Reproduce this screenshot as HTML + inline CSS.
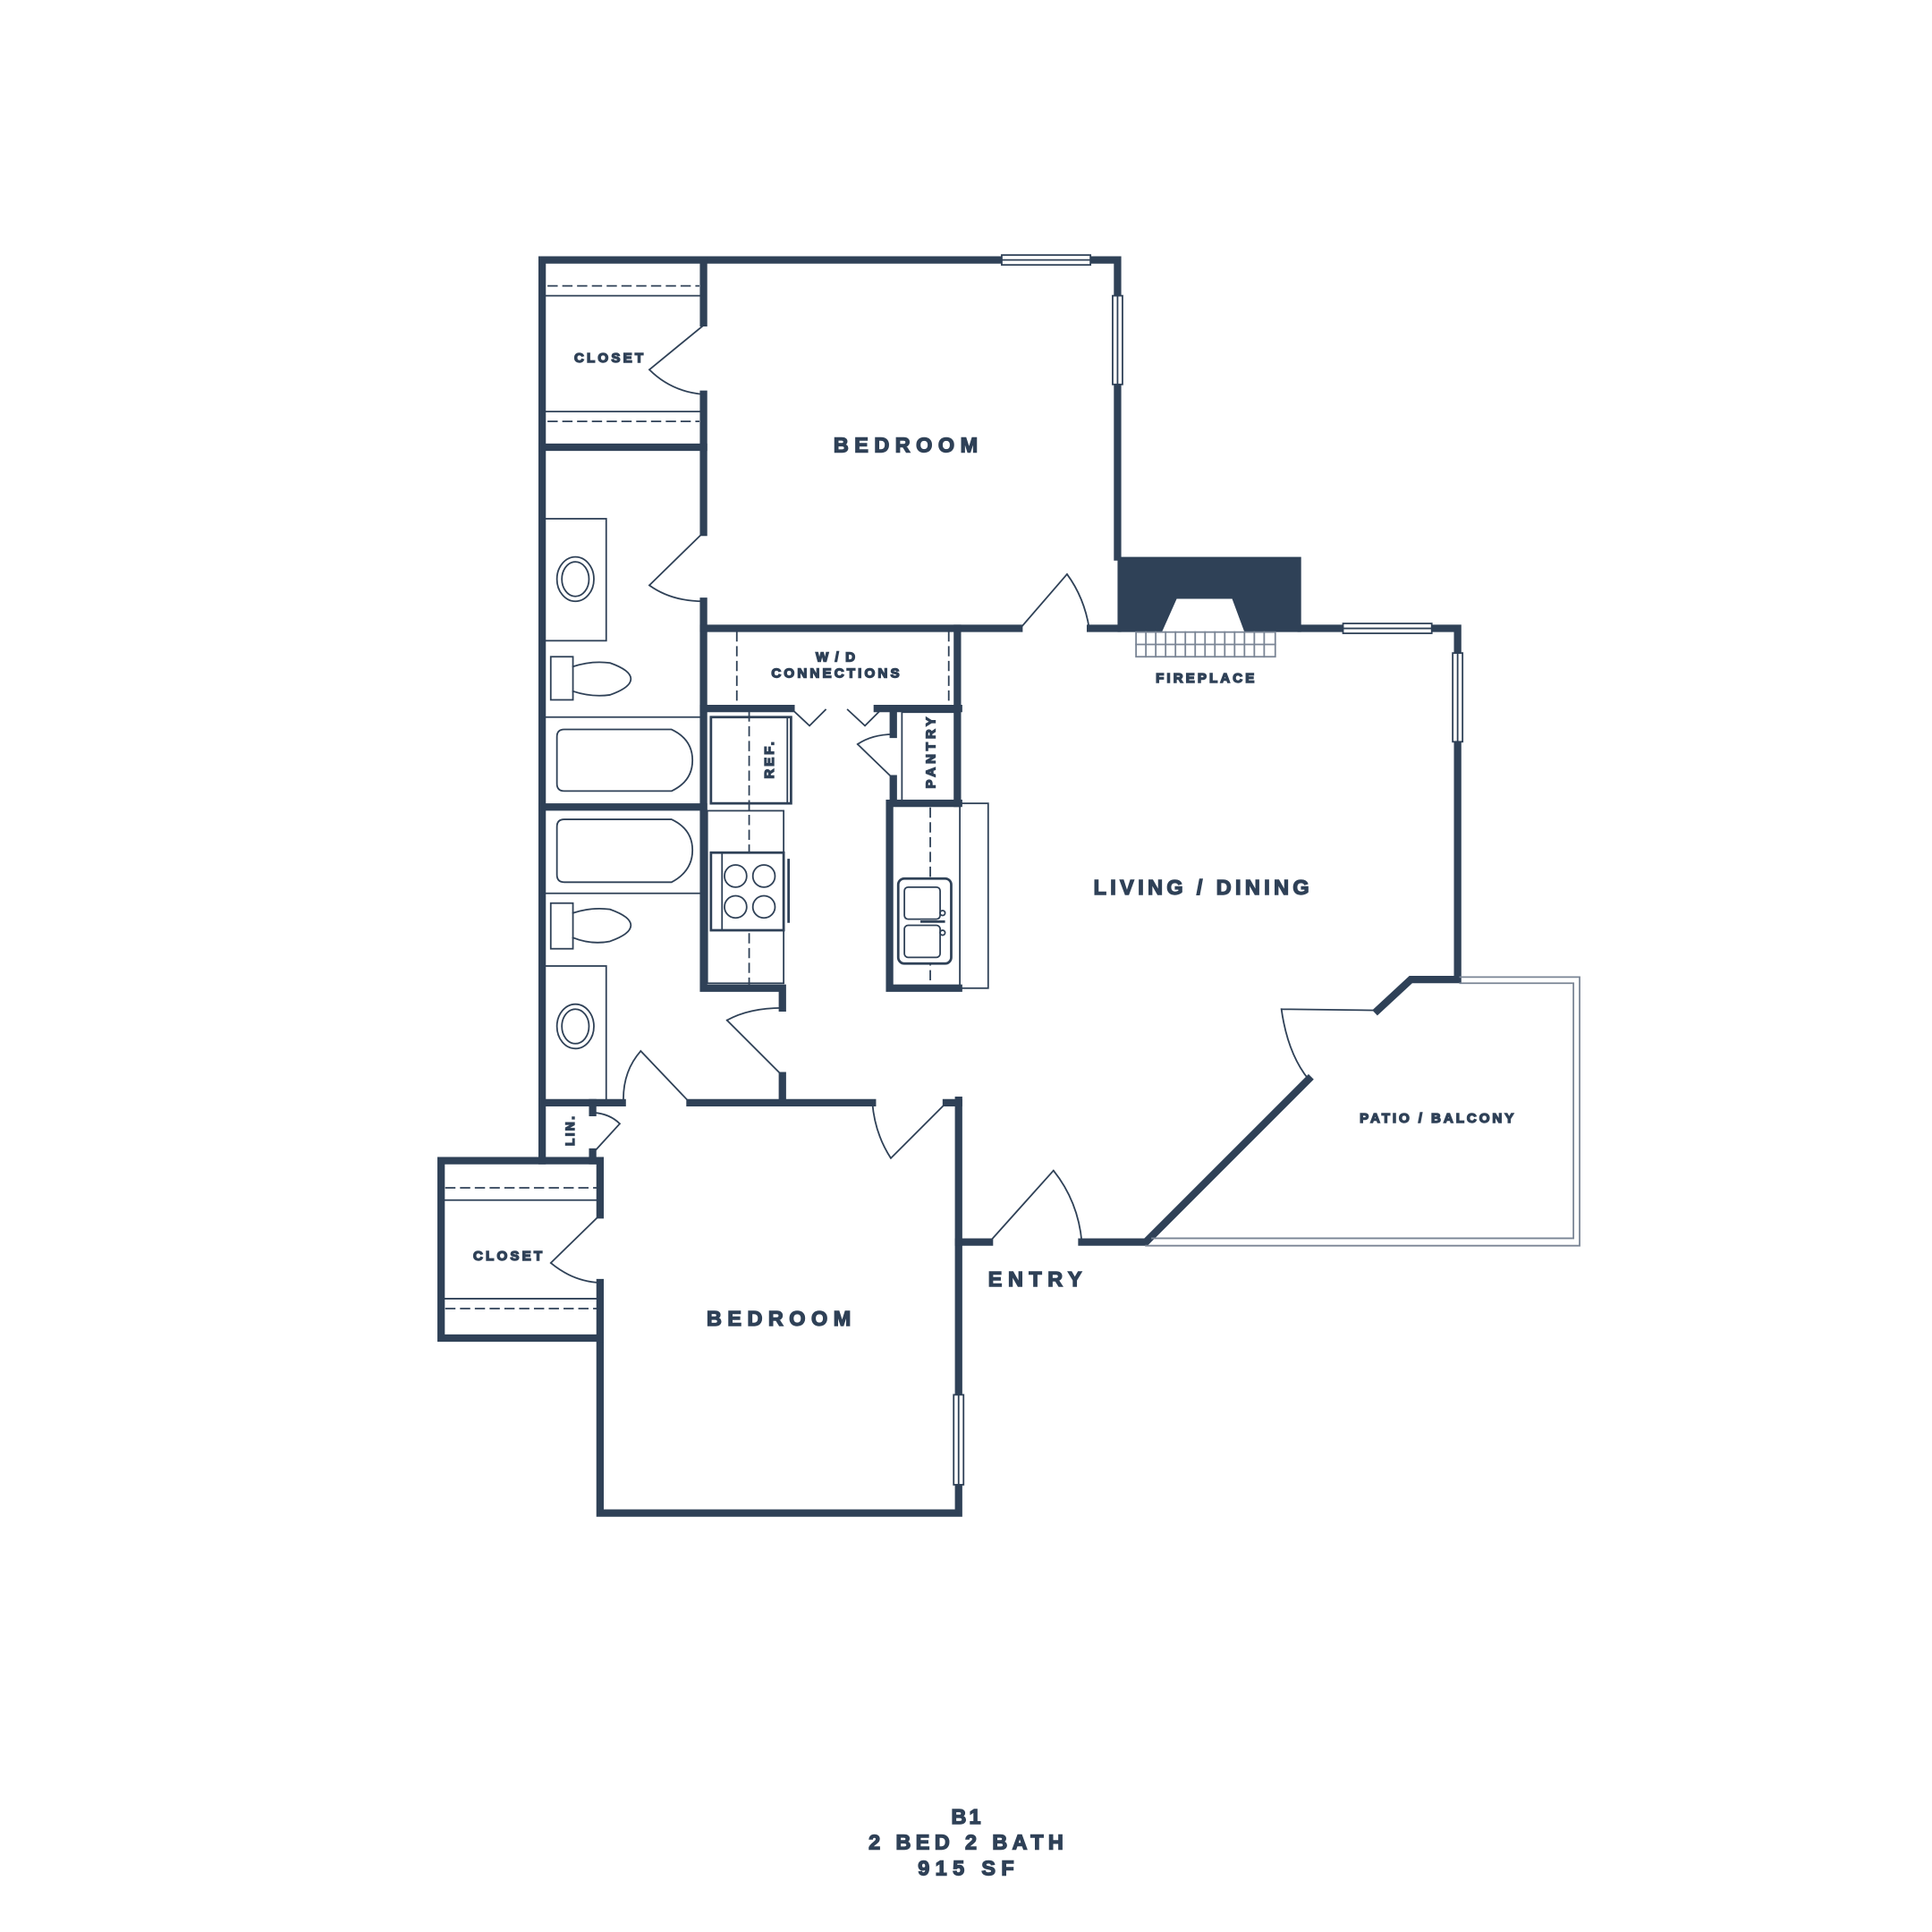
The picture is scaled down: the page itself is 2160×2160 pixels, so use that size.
<!DOCTYPE html>
<html><head><meta charset="utf-8"><style>
html,body{margin:0;padding:0;background:#fff;}
svg{display:block;}
text{font-family:"Liberation Sans",sans-serif;font-weight:bold;fill:#2f4157;}
</style></head><body>
<svg width="2160" height="2160" viewBox="0 0 1568 1568" xmlns="http://www.w3.org/2000/svg">
<g fill="none" stroke="#2f4157" stroke-linecap="square">
<g stroke-width="6">
<path d="M440,211 H907 V452"/>
<path d="M440,211 V942"/>
<path d="M571,211 V262 M571,320 V432 M571,488 V802 H635 V818 M635,873 V893"/>
<path d="M440,363 H571"/>
<path d="M571,510 H827 M885,510 H907"/>
<path d="M1056,510 H1183 V795 H1145 L1118,820"/>
<path d="M1062,876 L930,1008 H878 M803,1008 H778 V1228 H487 V1086"/>
<path d="M778,893 V1008"/>
<path d="M440,895 H505 M560,895 H708 M768,895 H778"/>
<path d="M487,986 V942 H358 V1086 H487 V1041"/>
<path d="M481,895 V903 M481,935 V942"/>
<path d="M777,510 V652"/>
<path d="M571,575 H642 M712,575 H778"/>
<path d="M725,575 V596 M725,632 V652 H778"/>
<path d="M722,652 V802 H778"/>
<path d="M440,655 H571"/>
</g>
<path d="M907,452 H1056 V513 H1010 L1000,486 H955 L943,513 H907 Z" fill="#2f4157" stroke="none"/>
<g stroke-width="1.3" fill="#fff">
<rect x="813" y="207" width="72" height="8"/><line x1="813" y1="211" x2="885" y2="211"/>
<rect x="903" y="240" width="8" height="72"/><line x1="907" y1="240" x2="907" y2="312"/>
<rect x="1090" y="506" width="72" height="8"/><line x1="1090" y1="510" x2="1162" y2="510"/>
<rect x="1179" y="530" width="8" height="72"/><line x1="1183" y1="530" x2="1183" y2="602"/>
<rect x="774" y="1132" width="8" height="73"/><line x1="778" y1="1132" x2="778" y2="1205"/>
</g>
<g stroke-width="1.3">
<line x1="442" y1="240" x2="569" y2="240"/><line x1="442" y1="334" x2="569" y2="334"/>
<line x1="361" y1="974" x2="485" y2="974"/><line x1="361" y1="1054" x2="485" y2="1054"/>
<path d="M571,264 L527,300 M527,300 Q545,318 571,320"/>
<path d="M571,432 L527,475 M527,475 Q545,488 571,488"/>
<path d="M828,510 L866,466 M866,466 Q880,485 884,510"/>
<path d="M487,986 L447,1025 M447,1025 Q465,1040 487,1041"/>
<path d="M482,935 L503,912 M503,912 Q495,904 482,903"/>
<path d="M560,895 L520,853 M520,853 Q505,870 506,895"/>
<path d="M768,895 L723,940 M723,940 Q710,920 708,895"/>
<path d="M635,873 L590,828 M590,828 Q608,818 635,818"/>
<path d="M725,632 L696,604 M696,604 Q708,596 725,596"/>
<path d="M803,1008 L855,950 M855,950 Q875,975 878,1008"/>
<path d="M1118,820 L1040,819 M1040,819 Q1045,855 1062,876"/>
<path d="M642,575 L657,589 L670,576 M688,576 L702,589 L716,575"/>
<path d="M1185,793 H1282 V1011 H930" stroke="#7a8595"/>
<path d="M1185,798 H1277 V1005 H935" stroke="#7a8595"/>
<rect x="922" y="513" width="113" height="20" stroke="#7a8595"/>
<line x1="922" y1="523" x2="1035" y2="523" stroke="#7a8595"/>
<path d="M930,513V533M938,513V533M946,513V533M954,513V533M962,513V533M970,513V533M978,513V533M986,513V533M994,513V533M1002,513V533M1010,513V533M1018,513V533M1026,513V533" stroke="#7a8595"/>
<rect x="442" y="421" width="50" height="99"/>
<ellipse cx="467" cy="470" rx="15" ry="18"/><ellipse cx="467" cy="470" rx="11" ry="14"/>
<rect x="447" y="533" width="18" height="35"/>
<path d="M465,541 Q480,536 495,538 Q512,544 512,551 Q512,558 495,564 Q480,566 465,561"/>
<line x1="442" y1="582" x2="569" y2="582"/>
<path d="M458,592 H545 Q562,600 562,617 Q562,634 545,642 H458 Q452,642 452,636 V598 Q452,592 458,592 Z"/>
<line x1="442" y1="725" x2="569" y2="725"/>
<path d="M458,665 H545 Q562,673 562,690 Q562,707 545,716 H458 Q452,716 452,710 V671 Q452,665 458,665 Z"/>
<rect x="447" y="733" width="18" height="37"/>
<path d="M465,741 Q480,736 495,738 Q512,744 512,751 Q512,758 495,764 Q480,767 465,761"/>
<rect x="442" y="784" width="50" height="111"/>
<ellipse cx="467" cy="833" rx="15" ry="18"/><ellipse cx="467" cy="833" rx="11" ry="14"/>
<g stroke-dasharray="7,5">
<line x1="598" y1="513" x2="598" y2="573"/><line x1="770" y1="513" x2="770" y2="573"/>
<line x1="608" y1="578" x2="608" y2="800"/><line x1="755" y1="656" x2="755" y2="800"/>
<line x1="445" y1="232" x2="567" y2="232"/><line x1="445" y1="342" x2="567" y2="342"/>
<line x1="362" y1="964" x2="485" y2="964"/><line x1="362" y1="1062" x2="485" y2="1062"/>
</g>
<rect x="577" y="582" width="65" height="70" stroke-width="2"/><line x1="639" y1="582" x2="639" y2="652"/>
<rect x="574" y="658" width="62" height="140"/>
<rect x="577" y="692" width="59" height="63" stroke-width="2" fill="#fff"/>
<line x1="586" y1="692" x2="586" y2="755"/>
<circle cx="597" cy="711" r="9"/><circle cx="620" cy="711" r="9"/><circle cx="597" cy="736" r="9"/><circle cx="620" cy="736" r="9"/>
<line x1="640" y1="698" x2="640" y2="748" stroke-width="2"/>
<rect x="732" y="578" width="45" height="74"/>
<rect x="779" y="652" width="23" height="150"/>
<rect x="729" y="713" width="43" height="69" rx="5" stroke-width="2" fill="#fff"/>
<rect x="734" y="720" width="29" height="26" rx="3"/><rect x="734" y="751" width="29" height="26" rx="3"/>
<line x1="748" y1="748" x2="766" y2="748" stroke-width="2"/>
<circle cx="765" cy="741" r="2"/><circle cx="765" cy="757" r="2"/>
</g>
<text x="735" y="367" font-size="17" text-anchor="middle" textLength="117" lengthAdjust="spacing">BEDROOM</text>
<text x="494" y="294" font-size="11" text-anchor="middle" textLength="56" lengthAdjust="spacing">CLOSET</text>
<text x="678" y="537" font-size="11" text-anchor="middle" textLength="32" lengthAdjust="spacing">W/D</text>
<text x="678" y="550" font-size="11" text-anchor="middle" textLength="104" lengthAdjust="spacing">CONNECTIONS</text>
<text x="978" y="554" font-size="11" text-anchor="middle" textLength="80" lengthAdjust="spacing">FIREPLACE</text>
<text x="975" y="726" font-size="17" text-anchor="middle" textLength="175" lengthAdjust="spacing">LIVING / DINING</text>
<text x="1166" y="911" font-size="11" text-anchor="middle" textLength="125" lengthAdjust="spacing">PATIO / BALCONY</text>
<text x="840" y="1044" font-size="17" text-anchor="middle" textLength="76" lengthAdjust="spacing">ENTRY</text>
<text x="632" y="1076" font-size="17" text-anchor="middle" textLength="117" lengthAdjust="spacing">BEDROOM</text>
<text x="412" y="1023" font-size="11" text-anchor="middle" textLength="56" lengthAdjust="spacing">CLOSET</text>
<text transform="translate(628,617) rotate(-90)" font-size="11" text-anchor="middle" textLength="30" lengthAdjust="spacing">REF.</text>
<text transform="translate(759,611) rotate(-90)" font-size="11" text-anchor="middle" textLength="58" lengthAdjust="spacing">PANTRY</text>
<text transform="translate(466,918) rotate(-90)" font-size="10" text-anchor="middle" textLength="24" lengthAdjust="spacing">LIN.</text>
<text x="784" y="1480" font-size="17" text-anchor="middle" textLength="24" lengthAdjust="spacing">B1</text>
<text x="784" y="1501" font-size="17" text-anchor="middle" textLength="158" lengthAdjust="spacing">2 BED  2 BATH</text>
<text x="784" y="1522" font-size="17" text-anchor="middle" textLength="78" lengthAdjust="spacing">915  SF</text>
</svg>
</body></html>
